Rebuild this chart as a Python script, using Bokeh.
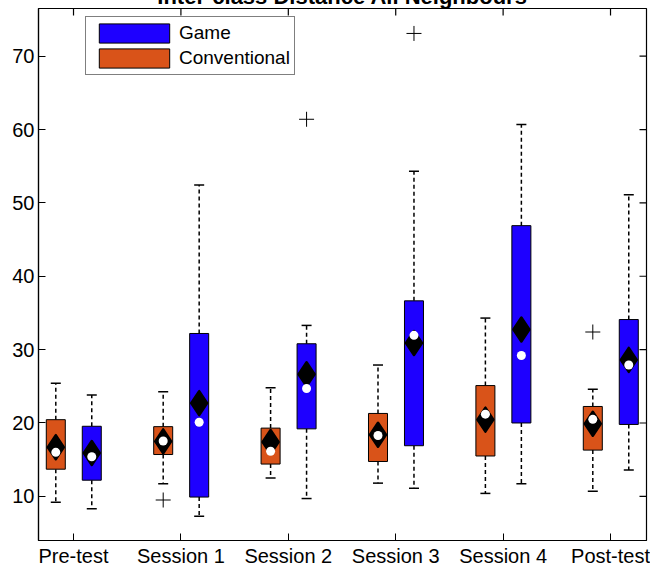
import math
from bokeh.plotting import figure
from bokeh.models import (ColumnDataSource, FixedTicker, Legend, LegendItem,
                          Range1d)
from bokeh.embed import file_html
from bokeh.resources import INLINE

sessions = ["Pre-test", "Session 1", "Session 2", "Session 3", "Session 4", "Post-test"]
positions = [1, 2, 3, 4, 5, 6]

# Conventional group
conv_lower = [9.2, 11.7, 12.5, 11.8, 10.4, 10.7]
conv_q1 = [13.7, 15.7, 14.4, 14.75, 15.5, 16.3]
conv_q3 = [20.45, 19.5, 19.3, 21.3, 25.1, 22.25]
conv_upper = [25.4, 24.25, 24.8, 27.9, 34.3, 24.6]
conv_mean = [16.7, 17.5, 17.4, 18.4, 20.45, 19.9]
conv_median = [16.0, 17.55, 16.15, 18.3, 21.2, 20.5]
conv_out_session = [2, 6]
conv_out_value = [9.5, 32.4]

# Game group
game_lower = [8.3, 7.3, 9.7, 11.1, 11.7, 13.6]
game_q1 = [12.2, 9.9, 19.2, 16.9, 20.0, 19.8]
game_q3 = [19.55, 32.2, 30.8, 36.65, 46.9, 34.1]
game_upper = [23.8, 52.45, 33.3, 54.3, 60.7, 51.1]
game_mean = [15.9, 22.7, 26.65, 30.9, 32.75, 28.6]
game_median = [15.4, 20.1, 24.7, 31.95, 29.2, 27.9]
game_out_session = [3, 4]
game_out_value = [61.4, 73.1]

y_ticks = [10, 20, 30, 40, 50, 60, 70]

CONV_COLOR = "#D95319"
GAME_COLOR = "#1E00FF"
FONT = "Liberation Sans"
OFF_CONV = -0.165
OFF_GAME = 0.17
BOX_W = 0.177
X_START, X_END = 0.674, 6.335
Y_START, Y_END = 3.98, 76.5

p = figure(width=650, height=601,
           x_range=Range1d(X_START, X_END), y_range=Range1d(Y_START, Y_END),
           output_backend="svg", toolbar_location=None,
           min_border_left=38, min_border_right=4, min_border_top=40,
           min_border_bottom=28,
           title="Inter-class Distance All Neighbours",
           styles={"margin-top": "-32px"})

p.title.text_font = FONT
p.title.text_font_size = "22px"
p.title.text_font_style = "bold"
p.title.align = "center"
p.title.standoff = 0
p.title.text_color = "black"

p.xgrid.visible = False
p.ygrid.visible = False
p.outline_line_color = "black"
p.outline_line_width = 1.2

for ax in p.xaxis + p.yaxis:
    ax.major_tick_in = 7
    ax.major_tick_out = 0
    ax.minor_tick_line_color = None
    ax.axis_line_color = "black"
    ax.axis_line_width = 1.2
    ax.major_tick_line_color = "black"
    ax.major_label_text_font = FONT
    ax.major_label_text_font_size = "20px"
    ax.major_label_text_color = "black"
    ax.major_label_standoff = 4

p.xaxis.ticker = FixedTicker(ticks=positions)
p.xaxis.major_label_overrides = {pos: s for pos, s in zip(positions, sessions)}
p.yaxis.ticker = FixedTicker(ticks=y_ticks)

# mirrored inward ticks on the top and right edges of the frame
p.scatter(x=positions, y=[Y_END] * len(positions), marker="dash",
          angle=math.pi / 2, size=14, line_color="black", line_width=1.2)
p.scatter(x=[X_END] * len(y_ticks), y=y_ticks, marker="dash", size=14,
          line_color="black", line_width=1.2)


def draw_group(offset, lower, q1, q3, upper, mean, median, out_s, out_v, color):
    xs = [pos + offset for pos in positions]
    src = ColumnDataSource(dict(x=xs, lower=lower, q1=q1, q3=q3, upper=upper,
                                mean=mean, median=median))
    p.segment(x0="x", y0="q3", x1="x", y1="upper", source=src,
              line_color="black", line_width=1.5, line_dash="4 3")
    p.segment(x0="x", y0="q1", x1="x", y1="lower", source=src,
              line_color="black", line_width=1.5, line_dash="4 3")
    p.scatter(x="x", y="upper", source=src, marker="dash", size=10,
              line_color="black", line_width=1.5)
    p.scatter(x="x", y="lower", source=src, marker="dash", size=10,
              line_color="black", line_width=1.5)
    box = p.vbar(x="x", width=BOX_W, bottom="q1", top="q3", source=src,
                 fill_color=color, line_color="black", line_width=1)
    out_src = ColumnDataSource(dict(x=[s + offset for s in out_s], y=out_v))
    p.scatter(x="x", y="y", source=out_src, marker="cross", size=15,
              line_color="black", line_width=1)
    p.scatter(x="x", y="mean", source=src, marker="diamond", size=24,
              fill_color="black", line_color="black", line_width=2.5,
              line_join="round")
    p.scatter(x="x", y="median", source=src, marker="circle", size=9,
              fill_color="white", line_color=None)
    return box


conv_box = draw_group(OFF_CONV, conv_lower, conv_q1, conv_q3, conv_upper,
                      conv_mean, conv_median, conv_out_session, conv_out_value,
                      CONV_COLOR)
game_box = draw_group(OFF_GAME, game_lower, game_q1, game_q3, game_upper,
                      game_mean, game_median, game_out_session, game_out_value,
                      GAME_COLOR)

legend = Legend(items=[LegendItem(label="Game", renderers=[game_box]),
                       LegendItem(label="Conventional", renderers=[conv_box])],
                location=(47, 465), margin=0, padding=4, spacing=1,
                glyph_width=88, glyph_height=24, label_height=19,
                label_standoff=1, label_text_font=FONT,
                label_text_font_size="19px", label_text_line_height=1.0,
                label_text_color="black",
                border_line_color="black", border_line_width=1,
                background_fill_color="white", background_fill_alpha=1)
p.add_layout(legend)

open("out.html", "w").write(file_html(p, INLINE))
